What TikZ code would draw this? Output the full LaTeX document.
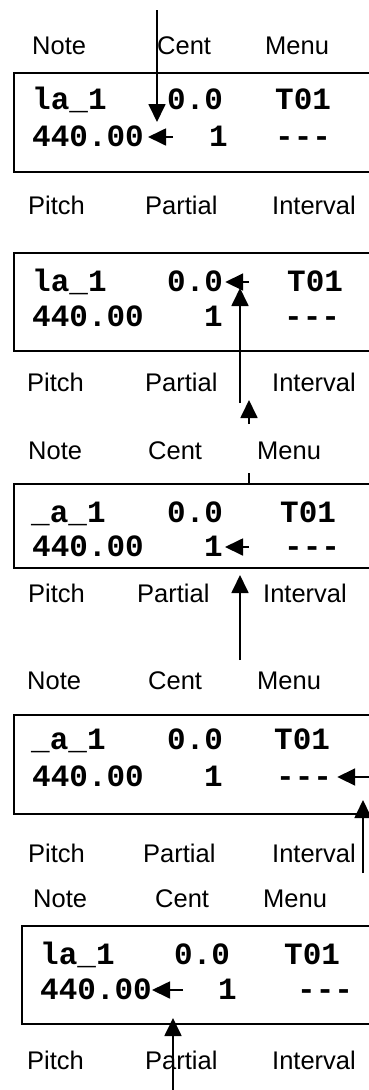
\documentclass[tikz,border=0pt]{standalone}
\usepackage{fontspec}
\setsansfont{Liberation Sans}
\newfontfamily\lcdfont{Liberation Mono}
\usetikzlibrary{arrows.meta, positioning}
\tikzstyle{screen}=[draw, line width=1.5pt, anchor=north west, minimum width=380pt, inner sep=0pt]
\tikzstyle{tag}=[font=\sffamily\fontsize{25.5}{30}\selectfont, anchor=west, inner sep=0pt, text height=18pt, text depth=0pt]
\tikzstyle{lcd}=[font=\lcdfont\bfseries\fontsize{31}{36}\selectfont, anchor=west, inner sep=0pt, text height=19pt, text depth=0pt]
\tikzstyle{ptr}=[line width=1.8pt, -{Triangle[length=18pt,width=17pt]}]

\begin{document}
\begin{tikzpicture}[x=1pt, y=-1pt]
  \useasboundingbox (0,0) rectangle (369,1090);
  % screen 1
  \node[tag] (n1) at (32,45) {Note};
  \node[tag] (c1) at (157,45) {Cent};
  \node[tag] (m1) at (265,45) {Menu};
  \node[screen, minimum height=99pt] (s1) at (13,72) {};
  \node[lcd] (nm1) at (32,100) {la\_1};
  \node[lcd] (ct1) at (167,100) {0.0};
  \node[lcd] (tb1) at (275,100) {T01};
  \node[lcd] (hz1) at (32,137) {440.00};
  \node[lcd] (pt1) at (209,137) {1};
  \node[lcd] (iv1) at (275,137) {-{}-{}-};
  \node[tag] (p1) at (28,205) {Pitch};
  \node[tag] (h1) at (145,205) {Partial};
  \node[tag] (i1) at (272,205) {Interval};
  \coordinate (a1) at (157,10);
  \coordinate (b1) at (157,122);
  \draw[ptr] (a1) -- (b1);
  \draw[ptr] ([xshift=29pt]hz1.east) -- ([xshift=4pt]hz1.east);

  % screen 2
  \node[screen, minimum height=98pt] (s2) at (13,252) {};
  \node[lcd] (nm2) at (32,282) {la\_1};
  \node[lcd] (ct2) at (167,282) {0.0};
  \node[lcd] (tb2) at (287,282) {T01};
  \node[lcd] (hz2) at (32,317) {440.00};
  \node[lcd] (pt2) at (204,317) {1};
  \node[lcd] (iv2) at (284,317) {-{}-{}-};
  \node[tag] (p2) at (27,382) {Pitch};
  \node[tag] (h2) at (145,382) {Partial};
  \node[tag] (i2) at (272,382) {Interval};
  \coordinate (a2) at (240,403);
  \coordinate (b2) at (240,288);
  \draw[ptr] (a2) -- (b2);
  \draw[ptr] ([xshift=26pt]ct2.east) -- ([xshift=2pt]ct2.east);
  \coordinate (a3) at (249,424);
  \coordinate (b3) at (249,400);
  \draw[ptr] (a3) -- (b3);

  % screen 3
  \node[tag] (n3) at (28,450) {Note};
  \node[tag] (c3) at (148,450) {Cent};
  \node[tag] (m3) at (257,450) {Menu};
  \node[screen, minimum height=84pt] (s3) at (13,483) {};
  \coordinate (k3) at (249,473);
  \draw[line width=1.8pt] (k3) -- (k3 |- s3.north);
  \node[lcd] (nm3) at (31,513) {\_a\_1};
  \node[lcd] (ct3) at (167,513) {0.0};
  \node[lcd] (tb3) at (280,513) {T01};
  \node[lcd] (hz3) at (32,547) {440.00};
  \node[lcd] (pt3) at (204,547) {1};
  \node[lcd] (iv3) at (284,547) {-{}-{}-};
  \node[tag] (p3) at (28,593) {Pitch};
  \node[tag] (h3) at (137,593) {Partial};
  \node[tag] (i3) at (263,593) {Interval};
  \coordinate (a4) at (240,660);
  \coordinate (b4) at (240,575);
  \draw[ptr] (a4) -- (b4);
  \draw[ptr] ([xshift=26pt]pt3.east) -- ([xshift=2pt]pt3.east);

  % screen 4
  \node[tag] (n4) at (27,680) {Note};
  \node[tag] (c4) at (148,680) {Cent};
  \node[tag] (m4) at (257,680) {Menu};
  \node[screen, minimum height=99pt] (s4) at (13,714) {};
  \node[lcd] (nm4) at (31,740) {\_a\_1};
  \node[lcd] (ct4) at (167,740) {0.0};
  \node[lcd] (tb4) at (274,740) {T01};
  \node[lcd] (hz4) at (32,777) {440.00};
  \node[lcd] (pt4) at (204,777) {1};
  \node[lcd] (iv4) at (276,777) {-{}-{}-};
  \node[tag] (p4) at (28,853) {Pitch};
  \node[tag] (h4) at (143,853) {Partial};
  \node[tag] (i4) at (272,853) {Interval};
  \coordinate (a5) at (363,873);
  \coordinate (b5) at (363,800);
  \draw[ptr] (a5) -- (b5);
  \draw[ptr] ([xshift=40pt]iv4.east) -- ([xshift=5pt]iv4.east);

  % screen 5
  \node[tag] (n5) at (33,898) {Note};
  \node[tag] (c5) at (155,898) {Cent};
  \node[tag] (m5) at (263,898) {Menu};
  \node[screen, minimum height=98pt] (s5) at (21,925) {};
  \node[lcd] (nm5) at (40,955) {la\_1};
  \node[lcd] (ct5) at (174,955) {0.0};
  \node[lcd] (tb5) at (284,955) {T01};
  \node[lcd] (hz5) at (40,990) {440.00};
  \node[lcd] (pt5) at (218,990) {1};
  \node[lcd] (iv5) at (297,990) {-{}-{}-};
  \node[tag] (p5) at (27,1060) {Pitch};
  \node[tag] (h5) at (145,1060) {Partial};
  \node[tag] (i5) at (272,1060) {Interval};
  \coordinate (a6) at (173,1090);
  \coordinate (b6) at (173,1018);
  \draw[ptr] (a6) -- (b6);
  \draw[ptr] ([xshift=31pt]hz5.east) -- ([xshift=0pt]hz5.east);
\end{tikzpicture}
\end{document}
